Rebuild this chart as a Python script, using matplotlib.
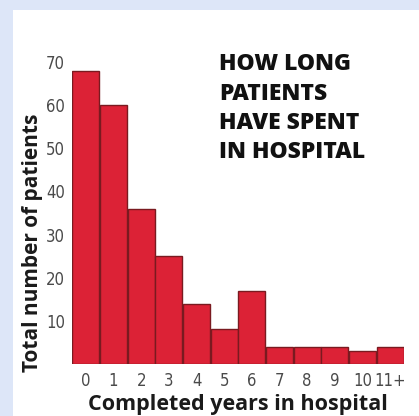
import matplotlib
matplotlib.use("Agg")
import matplotlib.pyplot as plt
from matplotlib.patches import Rectangle

categories = ["0", "1", "2", "3", "4", "5", "6", "7", "8", "9", "10", "11+"]
patients = [68, 60, 36, 25, 14, 8, 17, 4, 4, 4, 3, 4]
yticks = [10, 20, 30, 40, 50, 60, 70]
title_lines = ["HOW LONG", "PATIENTS", "HAVE SPENT", "IN HOSPITAL"]

W, H = 419, 416
fig = plt.figure(figsize=(W / 100, H / 100), dpi=100)
fig.patch.set_facecolor("white")

# dotted border strips (top and left)
fig.add_artist(Rectangle((0, 1 - 10 / H), 1, 10 / H, transform=fig.transFigure,
                         facecolor="#dde6f8", edgecolor="none", zorder=0))
fig.add_artist(Rectangle((0, 0), 13 / W, 1, transform=fig.transFigure,
                         facecolor="#dde6f8", edgecolor="none", zorder=0))

ax = fig.add_axes([72 / W, 52 / H, 332 / W, 310.6 / H])
x = list(range(len(categories)))
ax.bar(x, patients, width=0.97, color="#dc2236", edgecolor="#7a1a20", linewidth=1.0)
ax.set_xlim(-0.5, len(categories) - 0.5)
ax.set_ylim(0, 72)
for s in ax.spines.values():
    s.set_visible(False)
ax.set_facecolor("none")

cond = ["DejaVu Sans"]
ax.set_yticks(yticks)
ax.set_yticklabels([str(v) for v in yticks], fontsize=12, color="#4a4a4a",
                   family=cond, stretch="condensed")
ax.set_xticks(x)
ax.set_xticklabels(categories, fontsize=12, color="#4a4a4a", family=cond,
                   stretch="condensed")
ax.tick_params(axis="both", length=0)
ax.tick_params(axis="y", pad=5)
ax.tick_params(axis="x", pad=6)

fig.text(33 / W, 1 - 243 / H, "Total number of patients", rotation=90,
         ha="center", va="center", fontsize=15, fontweight="bold",
         family=["Open Sans", "DejaVu Sans"], color="#1a1a1a")
fig.text(238 / W, 1 - 410 / H, "Completed years in hospital", ha="center",
         va="baseline", fontsize=15.5, fontweight="bold",
         family=["Open Sans", "DejaVu Sans"], color="#1a1a1a")

tops = [52, 82, 111, 140]
for line, t in zip(title_lines, tops):
    fig.text(219 / W, 1 - t / H, line, ha="left", va="top", fontsize=16.5,
             fontweight="heavy", family=["Open Sans", "DejaVu Sans"], color="#111111")

fig.savefig("out.png", dpi=100)
